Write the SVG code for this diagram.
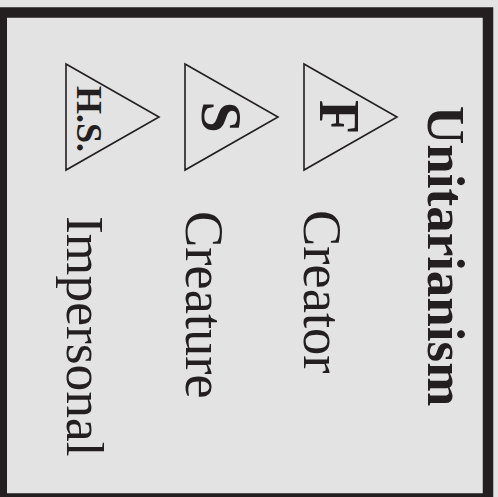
<svg xmlns="http://www.w3.org/2000/svg" width="498" height="497" viewBox="0 0 498 497">
<style>
.tri{fill:none;stroke:#231f20;stroke-width:1.6;stroke-linejoin:miter}
.lbl{font-family:"Liberation Serif","Times New Roman",serif;font-size:54.5px;fill:#231f20}
.ttl{font-family:"Liberation Serif","Times New Roman",serif;font-size:53px;font-weight:bold;fill:#231f20}
.sym{font-family:"Liberation Serif","Times New Roman",serif;font-weight:bold;fill:#231f20;text-anchor:middle}
</style>
<rect x="0" y="0" width="498" height="497" fill="#e2e3e2"/>
<rect id="frame" x="1.75" y="12.5" width="486.25" height="486" fill="none" stroke="#231f20" stroke-width="10.5"/>
<g id="title">
<text class="ttl" transform="translate(428,106) rotate(90)">Unitarianism</text>
</g>
<g id="father">
<polygon class="tri" points="304,64 397,117 304,170"/>
<text class="sym" font-size="56" transform="translate(320,117) rotate(90)">F</text>
<text class="lbl" transform="translate(304,210) rotate(90)">Creator</text>
</g>
<g id="son">
<polygon class="tri" points="185,64 278,117 185,170"/>
<text class="sym" font-size="56" transform="translate(202,117) rotate(90)">S</text>
<text class="lbl" transform="translate(186,211) rotate(90)">Creature</text>
</g>
<g id="holyspirit">
<polygon class="tri" points="66,64 159,117 66,170"/>
<text class="sym" font-size="36" transform="translate(77,119) rotate(90)">H.S.</text>
<text class="lbl" style="font-size:53.5px" transform="translate(67,216) rotate(90)">Impersonal</text>
</g>
<g id="connectors"/>
</svg>
